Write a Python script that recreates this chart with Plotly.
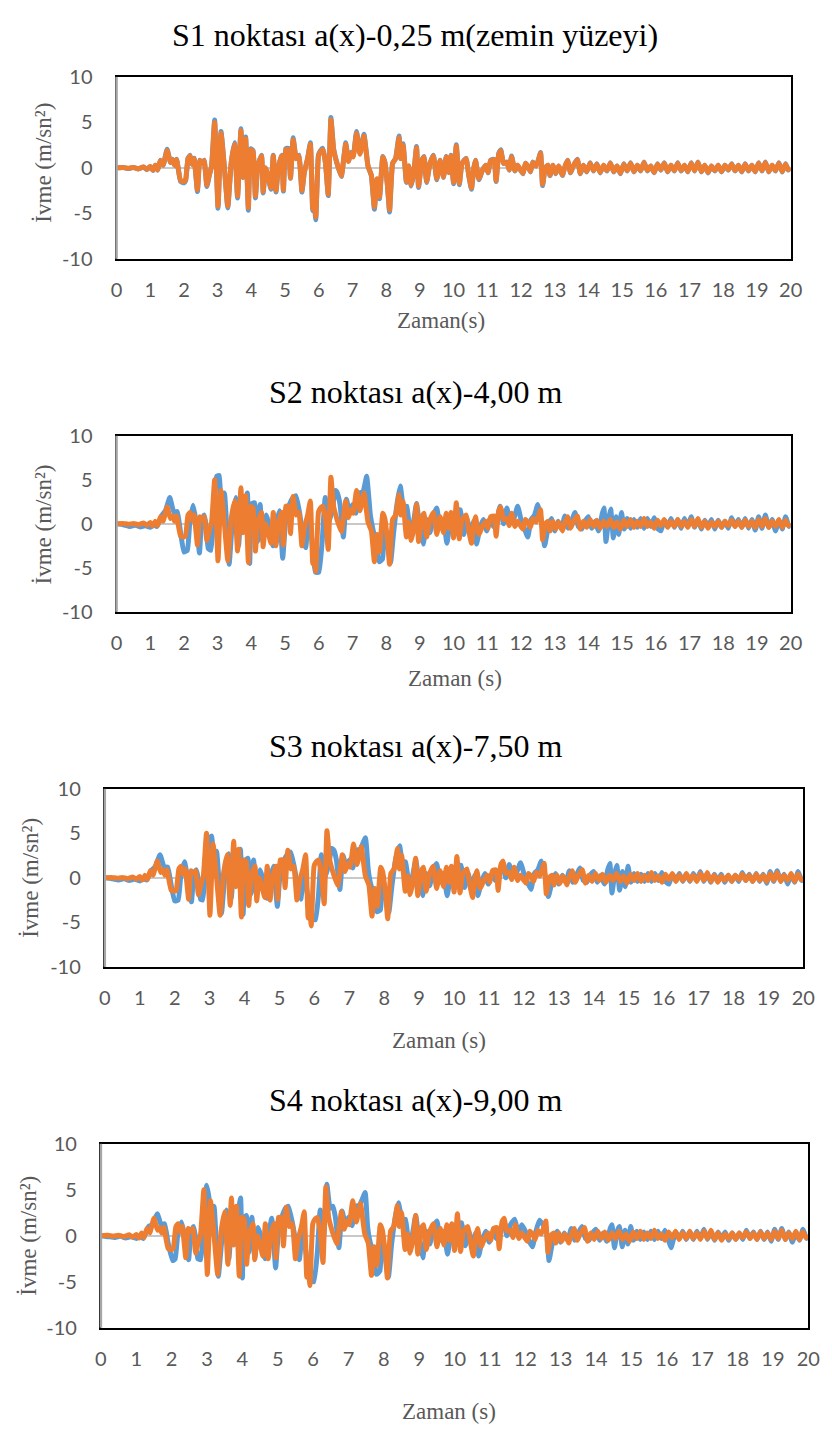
import plotly.graph_objects as go

W, H = 832, 1439
BLUE = "#5B9BD5"
ORANGE = "#ED7D31"

# ---------------- data (time s, acceleration m/s2) ----------------
orange_pts = [
    [0.00, 0.00], [0.20, 0.05], [0.35, -0.05], [0.50, 0.05], [0.65, -0.10], [0.80, 0.10], [0.90, -0.15],
    [1.00, 0.15], [1.08, -0.25], [1.15, 0.30], [1.22, -0.20], [1.30, 0.80], [1.38, 0.30], [1.50, 1.90],
    [1.60, 0.60], [1.66, 0.90], [1.72, 0.30], [1.78, 0.90], [1.90, -1.40], [2.00, -1.50], [2.05, -1.30],
    [2.12, 1.00], [2.18, 1.30], [2.24, 0.40], [2.30, 1.00], [2.40, -2.40], [2.47, 0.80], [2.55, 0.50],
    [2.60, 0.80], [2.68, -1.90], [2.75, -0.80], [2.82, 0.20], [2.91, 5.00], [3.01, -4.20], [3.10, 3.80],
    [3.20, 0.00], [3.30, -4.20], [3.40, 0.50], [3.50, 2.60], [3.59, -3.10], [3.69, 4.10], [3.75, -1.00],
    [3.83, 3.20], [3.91, -4.40], [3.98, 2.00], [4.05, 1.80], [4.12, -3.10], [4.19, 0.20], [4.30, 1.30],
    [4.35, -2.60], [4.42, 0.00], [4.50, -1.00], [4.58, -2.20], [4.65, 1.30], [4.73, -2.50], [4.80, 0.00],
    [4.90, 1.30], [4.95, -2.40], [5.02, 2.00], [5.10, 2.00], [5.16, -1.10], [5.24, 3.10], [5.33, 1.00],
    [5.41, 1.30], [5.50, -2.50], [5.57, -0.50], [5.67, 1.00], [5.75, 2.60], [5.82, -4.50], [5.86, -3.30],
    [5.91, -5.40], [5.99, 1.30], [6.05, 1.80], [6.12, 2.00], [6.20, 0.50], [6.28, -2.90], [6.36, 5.30],
    [6.44, 2.00], [6.54, 0.50], [6.67, -0.90], [6.74, 1.00], [6.80, 2.60], [6.88, 0.70], [6.95, 1.60],
    [7.02, 1.20], [7.12, 3.80], [7.22, 1.50], [7.34, 3.50], [7.46, 0.20], [7.56, -0.80], [7.65, -4.30],
    [7.73, -1.20], [7.80, -3.20], [7.90, 1.20], [7.96, 0.60], [8.04, -2.00], [8.10, -4.60], [8.19, 0.50],
    [8.28, 1.00], [8.38, 3.30], [8.43, 1.00], [8.50, 2.50], [8.60, -1.50], [8.67, 0.20], [8.74, -1.90],
    [8.82, -0.50], [8.90, 2.20], [8.96, -2.00], [9.06, 0.80], [9.12, 1.20], [9.20, -1.50], [9.30, 0.50],
    [9.40, 1.30], [9.50, -1.20], [9.60, 0.80], [9.70, -1.00], [9.78, 1.20], [9.86, -0.50], [9.92, 1.30],
    [10.00, -1.60], [10.08, 2.40], [10.17, -1.70], [10.25, 0.50], [10.37, 1.00], [10.45, -0.80],
    [10.53, -2.20], [10.60, 0.00], [10.65, 0.80], [10.75, -1.20], [10.85, -0.30], [10.95, 0.30],
    [11.02, -0.50], [11.10, 0.80], [11.20, 0.90], [11.26, -1.40], [11.34, 1.50], [11.40, 1.90],
    [11.48, 0.50], [11.58, 0.60], [11.65, -0.20], [11.72, 1.20], [11.82, -0.30], [11.90, 0.30],
    [12.00, -0.30], [12.06, -0.60], [12.13, 0.50], [12.20, 0.20], [12.28, -0.40], [12.35, 0.60],
    [12.45, 0.20], [12.52, 0.90], [12.58, 1.60], [12.64, -1.80], [12.72, 0.00], [12.80, 0.30],
    [12.86, -0.80], [12.95, 0.30], [13.03, -0.60], [13.12, 0.20], [13.23, -0.80], [13.30, 0.10],
    [13.38, 0.80], [13.47, -0.50], [13.55, 0.20], [13.67, 0.90], [13.76, -0.60], [13.85, 0.30],
    [13.95, -0.40], [14.05, 0.50], [14.15, -0.30], [14.25, 0.40], [14.35, -0.50], [14.45, 0.30],
    [14.55, -0.30], [14.65, 0.50], [14.75, -0.40], [14.85, 0.20], [14.95, -0.60], [15.05, 0.40],
    [15.15, -0.30], [15.25, 0.50], [15.35, -0.40], [15.45, 0.30], [15.55, -0.30], [15.65, 0.60],
    [15.75, -0.30], [15.85, 0.20], [15.95, -0.50], [16.05, 0.40], [16.15, -0.20], [16.25, 0.50],
    [16.35, -0.40], [16.45, 0.30], [16.55, -0.30], [16.65, 0.50], [16.75, -0.30], [16.85, 0.30],
    [16.95, -0.40], [17.05, 0.50], [17.15, -0.30], [17.25, 0.60], [17.35, -0.40], [17.45, 0.30],
    [17.55, -0.50], [17.65, 0.20], [17.75, -0.30], [17.85, 0.30], [17.95, -0.40], [18.05, 0.30],
    [18.15, -0.20], [18.25, 0.40], [18.35, -0.30], [18.45, 0.30], [18.55, -0.40], [18.65, 0.40],
    [18.75, -0.30], [18.85, 0.30], [18.95, -0.40], [19.05, 0.50], [19.15, -0.30], [19.25, 0.60],
    [19.35, -0.40], [19.45, 0.30], [19.55, -0.30], [19.65, 0.50], [19.75, -0.40], [19.85, 0.40],
    [19.93, -0.20], [20.00, 0.00],
]

s1_blue_pts = [
    [0.00, 0.00], [0.20, 0.05], [0.35, -0.08], [0.50, 0.05], [0.65, -0.12], [0.80, 0.10], [0.90, -0.18],
    [1.00, 0.15], [1.08, -0.30], [1.15, 0.30], [1.22, -0.25], [1.30, 0.85], [1.38, 0.30], [1.50, 2.05],
    [1.60, 0.60], [1.66, 0.95], [1.72, 0.30], [1.78, 0.95], [1.90, -1.50], [2.00, -1.65], [2.05, -1.40],
    [2.12, 1.05], [2.18, 1.40], [2.24, 0.40], [2.30, 1.05], [2.40, -2.60], [2.47, 0.85], [2.55, 0.50],
    [2.60, 0.85], [2.68, -2.05], [2.75, -0.85], [2.82, 0.20], [2.91, 5.25], [3.01, -4.45], [3.10, 4.00],
    [3.20, 0.00], [3.30, -4.40], [3.40, 0.50], [3.50, 2.75], [3.59, -3.30], [3.69, 4.30], [3.75, -1.05],
    [3.83, 3.40], [3.91, -4.65], [3.98, 2.10], [4.05, 1.90], [4.12, -3.30], [4.19, 0.20], [4.30, 1.40],
    [4.35, -2.75], [4.42, 0.00], [4.50, -1.05], [4.58, -2.35], [4.65, 1.40], [4.73, -2.65], [4.80, 0.00],
    [4.90, 1.40], [4.95, -2.55], [5.02, 2.10], [5.10, 2.15], [5.16, -1.15], [5.24, 3.30], [5.33, 1.05],
    [5.41, 1.40], [5.50, -2.65], [5.57, -0.50], [5.67, 1.05], [5.75, 2.75], [5.82, -4.70], [5.86, -3.50],
    [5.91, -5.70], [5.99, 1.40], [6.05, 1.90], [6.12, 2.15], [6.20, 0.50], [6.28, -3.05], [6.36, 5.55],
    [6.44, 2.10], [6.54, 0.50], [6.67, -0.95], [6.74, 1.05], [6.80, 2.75], [6.88, 0.75], [6.95, 1.70],
    [7.02, 1.25], [7.12, 4.00], [7.22, 1.60], [7.34, 3.70], [7.46, 0.20], [7.56, -0.85], [7.65, -4.55],
    [7.73, -1.25], [7.80, -3.40], [7.90, 1.25], [7.96, 0.60], [8.04, -2.10], [8.10, -4.85], [8.19, 0.50],
    [8.28, 1.05], [8.38, 3.50], [8.43, 1.05], [8.50, 2.65], [8.60, -1.60], [8.67, 0.20], [8.74, -2.00],
    [8.82, -0.50], [8.90, 2.35], [8.96, -2.15], [9.06, 0.85], [9.12, 1.25], [9.20, -1.60], [9.30, 0.50],
    [9.40, 1.40], [9.50, -1.30], [9.60, 0.85], [9.70, -1.05], [9.78, 1.25], [9.86, -0.50], [9.92, 1.40],
    [10.00, -1.75], [10.08, 2.55], [10.17, -1.85], [10.25, 0.50], [10.37, 1.05], [10.45, -0.85],
    [10.53, -2.35], [10.60, 0.00], [10.65, 0.85], [10.75, -1.30], [10.85, -0.30], [10.95, 0.30],
    [11.02, -0.55], [11.10, 0.85], [11.20, 0.95], [11.26, -1.50], [11.34, 1.60], [11.40, 2.00],
    [11.48, 0.50], [11.58, 0.65], [11.65, -0.25], [11.72, 1.30], [11.82, -0.35], [11.90, 0.30],
    [12.00, -0.35], [12.06, -0.65], [12.13, 0.50], [12.20, 0.20], [12.28, -0.45], [12.35, 0.65],
    [12.45, 0.20], [12.52, 0.95], [12.58, 1.70], [12.64, -1.95], [12.72, 0.00], [12.80, 0.30],
    [12.86, -0.85], [12.95, 0.30], [13.03, -0.65], [13.12, 0.20], [13.23, -0.85], [13.30, 0.10],
    [13.38, 0.85], [13.47, -0.55], [13.55, 0.20], [13.67, 0.95], [13.76, -0.65], [13.85, 0.30],
    [13.95, -0.45], [14.05, 0.55], [14.15, -0.35], [14.25, 0.45], [14.35, -0.55], [14.45, 0.30],
    [14.55, -0.35], [14.65, 0.55], [14.75, -0.45], [14.85, 0.20], [14.95, -0.65], [15.05, 0.45],
    [15.15, -0.35], [15.25, 0.55], [15.35, -0.45], [15.45, 0.30], [15.55, -0.35], [15.65, 0.65],
    [15.75, -0.35], [15.85, 0.20], [15.95, -0.55], [16.05, 0.45], [16.15, -0.25], [16.25, 0.55],
    [16.35, -0.45], [16.45, 0.30], [16.55, -0.35], [16.65, 0.55], [16.75, -0.35], [16.85, 0.30],
    [16.95, -0.45], [17.05, 0.55], [17.15, -0.35], [17.25, 0.65], [17.35, -0.45], [17.45, 0.30],
    [17.55, -0.55], [17.65, 0.20], [17.75, -0.35], [17.85, 0.30], [17.95, -0.45], [18.05, 0.30],
    [18.15, -0.25], [18.25, 0.45], [18.35, -0.35], [18.45, 0.30], [18.55, -0.45], [18.65, 0.45],
    [18.75, -0.35], [18.85, 0.30], [18.95, -0.45], [19.05, 0.55], [19.15, -0.35], [19.25, 0.65],
    [19.35, -0.45], [19.45, 0.30], [19.55, -0.35], [19.65, 0.55], [19.75, -0.45], [19.85, 0.45],
    [19.93, -0.25], [20.00, 0.00],
]

s2_blue_pts = [
    [0.00, 0.0], [0.20, -0.1], [0.40, -0.3], [0.55, -0.15], [0.70, -0.35], [0.85, -0.2], [1.00, -0.4],
    [1.10, -0.1], [1.20, -0.3], [1.35, 1.0], [1.45, 1.5], [1.58, 3.0], [1.70, 1.3], [1.80, 1.4],
    [1.90, -1.0], [2.00, -3.2], [2.10, -3.0], [2.17, 0.0], [2.27, 2.1], [2.37, 0.0], [2.46, -3.3],
    [2.53, 0.5], [2.60, 1.0], [2.65, 0.0], [2.72, -2.8], [2.80, -3.0], [2.87, 0.5], [2.97, 5.4],
    [3.05, 5.5], [3.10, 1.0], [3.20, 3.5], [3.34, -4.6], [3.43, 0.0], [3.53, 3.0], [3.62, -2.5],
    [3.72, 3.2], [3.78, 1.0], [3.88, 3.5], [3.95, -4.5], [4.02, 2.3], [4.10, 2.4], [4.18, -2.0],
    [4.26, 2.2], [4.34, -2.0], [4.45, 1.0], [4.55, -0.5], [4.64, -2.5], [4.74, 0.0], [4.83, 1.5],
    [4.93, -3.9], [5.03, 1.0], [5.13, 2.2], [5.22, 2.9], [5.32, 3.2], [5.42, 1.5], [5.52, -1.0],
    [5.61, -2.7], [5.71, 1.0], [5.80, -2.0], [5.90, -5.5], [6.00, -5.5], [6.10, -2.0], [6.19, 3.0],
    [6.29, 0.0], [6.39, 1.5], [6.50, 3.8], [6.55, 3.5], [6.63, 2.2], [6.73, -1.5], [6.82, 2.8],
    [6.92, 1.2], [7.00, 2.2], [7.10, 1.2], [7.20, 3.5], [7.31, 3.6], [7.42, 5.4], [7.53, 1.0],
    [7.60, -0.5], [7.69, -2.0], [7.79, -4.3], [7.89, -4.0], [7.95, 0.3], [8.03, -2.0], [8.13, -4.4],
    [8.22, -1.0], [8.33, 2.5], [8.42, 4.3], [8.51, 2.0], [8.61, 2.0], [8.71, -1.0], [8.80, 0.0],
    [8.90, 2.3], [9.00, -0.5], [9.10, -2.3], [9.20, 0.5], [9.30, -1.0], [9.40, 1.0], [9.50, 1.8],
    [9.60, -0.5], [9.70, 0.5], [9.80, -2.2], [9.90, 0.0], [10.00, -1.0], [10.10, 1.5], [10.20, 1.6],
    [10.30, -1.2], [10.40, 0.5], [10.50, -1.0], [10.60, 0.3], [10.68, -2.3], [10.78, -0.5], [10.88, 0.5],
    [10.98, -0.8], [11.08, 0.6], [11.18, -0.3], [11.30, 0.7], [11.38, 2.0], [11.48, 0.0], [11.58, 1.8],
    [11.68, 0.3], [11.78, 0.5], [11.90, 2.0], [12.00, 0.5], [12.10, -0.5], [12.20, -1.5], [12.30, 0.5],
    [12.40, 1.0], [12.50, 2.2], [12.60, 0.5], [12.70, -2.5], [12.80, -0.5], [12.90, 0.6], [13.00, -0.8],
    [13.10, 0.3], [13.20, -0.6], [13.30, 0.9], [13.40, -0.5], [13.50, 0.3], [13.60, 1.3], [13.70, -0.3],
    [13.80, -0.6], [13.90, 0.3], [14.00, 0.8], [14.10, -0.5], [14.20, 0.3], [14.30, -0.8], [14.40, 1.0],
    [14.46, 1.8], [14.52, -2.0], [14.60, 0.5], [14.66, 1.7], [14.74, -1.6], [14.82, 0.8], [14.90, -1.2],
    [14.98, 1.3], [15.06, -0.6], [15.15, 0.6], [15.25, -0.5], [15.35, 0.5], [15.45, -0.4], [15.55, 0.6],
    [15.65, -0.5], [15.75, 0.6], [15.85, -0.3], [15.95, 0.7], [16.05, -0.5], [16.15, -0.8], [16.25, 0.4],
    [16.35, -0.3], [16.45, 0.6], [16.55, -0.4], [16.65, 0.5], [16.75, -0.5], [16.85, 0.6], [16.95, -0.3],
    [17.05, 0.8], [17.15, -0.4], [17.25, 0.5], [17.35, -0.6], [17.45, 0.4], [17.55, -0.3], [17.65, 0.5],
    [17.75, -0.6], [17.85, 0.4], [17.95, -0.4], [18.05, 0.3], [18.15, -0.5], [18.25, 0.7], [18.35, -0.3],
    [18.45, 0.5], [18.55, -0.4], [18.65, 0.6], [18.75, -0.5], [18.85, 0.5], [18.95, -0.7], [19.05, 0.8],
    [19.15, -0.5], [19.25, 1.0], [19.35, -0.4], [19.45, 0.5], [19.55, -0.8], [19.65, 0.4], [19.75, -0.6],
    [19.85, 0.8], [19.95, -0.3], [20.00, 0.0],
]

s3_blue_pts = [
    [0.00, 0.0], [0.20, -0.1], [0.40, -0.25], [0.55, -0.1], [0.70, -0.3], [0.85, -0.15], [1.00, -0.35],
    [1.10, -0.1], [1.20, -0.25], [1.35, 0.9], [1.45, 1.3], [1.58, 2.6], [1.70, 1.2], [1.80, 1.2],
    [1.90, -0.8], [2.00, -2.6], [2.10, -2.5], [2.17, 0.0], [2.28, 1.8], [2.37, 0.0], [2.48, -2.7],
    [2.55, 0.4], [2.62, 0.9], [2.67, 0.0], [2.74, -2.4], [2.80, -2.5], [2.88, 0.5], [2.98, 4.4],
    [3.06, 4.7], [3.12, 1.0], [3.20, 3.0], [3.34, -4.0], [3.43, 0.0], [3.54, 2.7], [3.62, -2.3],
    [3.72, 2.9], [3.78, 1.0], [3.88, 3.2], [3.96, -4.1], [4.03, 2.0], [4.10, 2.2], [4.18, -1.8],
    [4.26, 2.0], [4.34, -1.8], [4.45, 0.9], [4.55, -0.5], [4.64, -2.3], [4.74, 0.0], [4.83, 1.3],
    [4.94, -3.2], [5.03, 0.9], [5.13, 2.0], [5.22, 2.6], [5.32, 2.9], [5.42, 1.3], [5.52, -0.9],
    [5.61, -2.4], [5.71, 0.9], [5.80, -1.8], [5.92, -4.6], [6.03, -4.7], [6.12, -1.8], [6.20, 2.6],
    [6.30, 0.0], [6.40, 1.3], [6.50, 3.3], [6.56, 3.1], [6.63, 2.0], [6.73, -1.3], [6.82, 2.5],
    [6.92, 1.1], [7.00, 2.0], [7.10, 1.1], [7.20, 3.1], [7.31, 3.2], [7.46, 4.5], [7.54, 1.0],
    [7.60, -0.5], [7.69, -1.8], [7.79, -3.8], [7.89, -3.6], [7.95, 0.3], [8.03, -1.8], [8.13, -3.9],
    [8.22, -0.9], [8.33, 2.2], [8.44, 3.6], [8.52, 1.8], [8.61, 1.8], [8.71, -0.9], [8.80, 0.0],
    [8.90, 2.0], [9.00, -0.5], [9.10, -2.0], [9.20, 0.5], [9.30, -0.9], [9.40, 0.9], [9.50, 1.6],
    [9.60, -0.5], [9.70, 0.5], [9.80, -2.0], [9.90, 0.0], [10.00, -0.9], [10.10, 1.3], [10.20, 1.4],
    [10.30, -1.1], [10.40, 0.5], [10.50, -0.9], [10.60, 0.3], [10.68, -2.0], [10.78, -0.5], [10.88, 0.5],
    [10.98, -0.7], [11.08, 0.5], [11.18, -0.3], [11.30, 0.6], [11.38, 1.7], [11.48, 0.0], [11.58, 1.5],
    [11.68, 0.3], [11.78, 0.5], [11.90, 1.7], [12.00, 0.5], [12.10, -0.5], [12.20, -1.3], [12.30, 0.5],
    [12.40, 0.9], [12.50, 1.9], [12.60, 0.4], [12.70, -2.1], [12.80, -0.5], [12.90, 0.5], [13.00, -0.7],
    [13.10, 0.3], [13.20, -0.5], [13.30, 0.8], [13.40, -0.5], [13.50, 0.3], [13.60, 1.1], [13.70, -0.3],
    [13.80, -0.5], [13.90, 0.3], [14.00, 0.7], [14.10, -0.5], [14.20, 0.3], [14.30, -0.7], [14.40, 0.9],
    [14.46, 1.6], [14.52, -1.7], [14.60, 0.5], [14.66, 1.4], [14.74, -1.4], [14.82, 0.7], [14.90, -1.0],
    [14.98, 1.3], [15.06, -0.5], [15.15, 0.5], [15.25, -0.4], [15.35, 0.4], [15.45, -0.4], [15.55, 0.5],
    [15.65, -0.4], [15.75, 0.5], [15.85, -0.3], [15.95, 0.6], [16.05, -0.4], [16.15, -0.7], [16.25, 0.4],
    [16.35, -0.3], [16.45, 0.5], [16.55, -0.4], [16.65, 0.4], [16.75, -0.4], [16.85, 0.5], [16.95, -0.3],
    [17.05, 0.7], [17.15, -0.4], [17.25, 0.4], [17.35, -0.5], [17.45, 0.4], [17.55, -0.3], [17.65, 0.4],
    [17.75, -0.5], [17.85, 0.3], [17.95, -0.4], [18.05, 0.3], [18.15, -0.4], [18.25, 0.6], [18.35, -0.3],
    [18.45, 0.4], [18.55, -0.4], [18.65, 0.5], [18.75, -0.4], [18.85, 0.4], [18.95, -0.6], [19.05, 0.7],
    [19.15, -0.4], [19.25, 0.8], [19.35, -0.4], [19.45, 0.4], [19.55, -0.7], [19.65, 0.4], [19.75, -0.5],
    [19.85, 0.7], [19.95, -0.3], [20.00, 0.0],
]

s4_blue_pts = [
    [0.00, 0.0], [0.20, -0.1], [0.40, -0.2], [0.55, -0.05], [0.70, -0.25], [0.85, -0.1], [1.00, -0.3],
    [1.10, 0.0], [1.20, -0.3], [1.35, 1.0], [1.45, 1.2], [1.60, 2.4], [1.70, 1.2], [1.80, 1.3],
    [1.90, -0.8], [2.03, -2.7], [2.10, -2.5], [2.17, 0.0], [2.28, 1.5], [2.37, 0.0], [2.48, -2.6],
    [2.55, 0.5], [2.62, 1.0], [2.67, 0.0], [2.74, -2.5], [2.82, -2.6], [2.90, 0.5], [2.99, 5.5],
    [3.06, 4.0], [3.12, 1.0], [3.20, 3.2], [3.32, -4.4], [3.43, 0.0], [3.54, 2.8], [3.62, -2.5],
    [3.72, 2.9], [3.78, 1.0], [3.88, 2.6], [3.95, 4.1], [4.00, -4.6], [4.06, 2.0], [4.12, 2.2],
    [4.18, -1.8], [4.27, 2.0], [4.35, -2.4], [4.45, 0.9], [4.55, -0.5], [4.64, -2.5], [4.74, 0.0],
    [4.83, 1.9], [4.94, -3.5], [5.03, 0.9], [5.13, 2.2], [5.22, 3.0], [5.30, 3.2], [5.42, 1.3],
    [5.52, -0.9], [5.61, -2.6], [5.71, 0.9], [5.80, -1.8], [5.92, -4.8], [6.02, -5.0], [6.12, -1.8],
    [6.20, 2.8], [6.30, 0.0], [6.39, 5.6], [6.48, 3.0], [6.56, 3.2], [6.63, 2.0], [6.73, -1.3],
    [6.82, 2.7], [6.92, 1.1], [7.00, 2.0], [7.10, 1.1], [7.20, 3.2], [7.31, 3.3], [7.47, 4.7],
    [7.54, 1.0], [7.60, -0.5], [7.69, -1.8], [7.79, -4.2], [7.89, -3.8], [7.95, 0.3], [8.03, -1.8],
    [8.13, -4.5], [8.22, -0.9], [8.33, 2.2], [8.41, 3.6], [8.52, 1.8], [8.61, 1.8], [8.71, -0.9],
    [8.80, 0.0], [8.90, 2.2], [9.00, -0.5], [9.10, -2.4], [9.20, 0.5], [9.30, -0.9], [9.40, 0.9],
    [9.50, 1.6], [9.60, -0.5], [9.70, 0.5], [9.80, -2.0], [9.90, 0.0], [10.00, -0.9], [10.10, 1.3],
    [10.20, 1.4], [10.30, -1.1], [10.40, 0.5], [10.50, -0.9], [10.60, 0.3], [10.68, -2.2], [10.78, -0.5],
    [10.88, 0.5], [10.98, -0.7], [11.08, 0.5], [11.18, -0.3], [11.30, 0.6], [11.38, 1.6], [11.48, 0.0],
    [11.58, 1.2], [11.70, 1.8], [11.80, 0.3], [11.90, 1.2], [12.00, 0.5], [12.10, -0.5], [12.20, -1.2],
    [12.30, 0.5], [12.40, 1.7], [12.50, 1.2], [12.60, 0.4], [12.67, -2.7], [12.78, -0.5], [12.90, 0.5],
    [13.00, -0.7], [13.10, 0.3], [13.20, -0.5], [13.30, 0.8], [13.40, -0.5], [13.50, 0.3], [13.60, 1.0],
    [13.70, -0.3], [13.80, -0.5], [13.90, 0.3], [14.00, 0.7], [14.10, -0.5], [14.20, 0.3], [14.30, -0.6],
    [14.40, 0.8], [14.45, 1.2], [14.52, -1.3], [14.60, 0.5], [14.66, 1.0], [14.74, -1.2], [14.82, 0.6],
    [14.90, -0.9], [14.98, 1.0], [15.06, -0.5], [15.15, 0.5], [15.25, -0.4], [15.35, 0.4], [15.45, -0.4],
    [15.55, 0.5], [15.65, -0.4], [15.75, 0.5], [15.85, -0.3], [15.95, 0.6], [16.05, -0.5], [16.12, -1.3],
    [16.25, 0.4], [16.35, -0.3], [16.45, 0.5], [16.55, -0.4], [16.65, 0.4], [16.75, -0.4], [16.85, 0.5],
    [16.95, -0.3], [17.05, 0.7], [17.15, -0.4], [17.25, 0.4], [17.35, -0.5], [17.45, 0.4], [17.55, -0.3],
    [17.65, 0.4], [17.75, -0.5], [17.85, 0.3], [17.95, -0.4], [18.05, 0.3], [18.15, -0.4], [18.25, 0.6],
    [18.35, -0.3], [18.45, 0.4], [18.55, -0.4], [18.65, 0.5], [18.75, -0.4], [18.85, 0.4], [18.95, -0.6],
    [19.05, 0.7], [19.15, -0.4], [19.25, 0.8], [19.35, -0.4], [19.45, 0.4], [19.55, -0.7], [19.65, 0.4],
    [19.75, -0.5], [19.85, 0.7], [19.95, -0.3], [20.00, 0.0],
]

titles = [
    "S1 noktası a(x)-0,25 m(zemin yüzeyi)",
    "S2 noktası a(x)-4,00 m",
    "S3 noktası a(x)-7,50 m",
    "S4 noktası a(x)-9,00 m",
]
x_titles = ["Zaman(s)", "Zaman (s)", "Zaman (s)", "Zaman (s)"]
y_title = "İvme (m/sn²)"
x_ticks = list(range(0, 21))
y_ticks = [-10, -5, 0, 5, 10]
blue_series = [s1_blue_pts, s2_blue_pts, s3_blue_pts, s4_blue_pts]
orange_series = [orange_pts, orange_pts, orange_pts, orange_pts]

# ---------------- layout (pixels) ----------------
panels = [
    dict(l=113, r=802, t=65, b=250, tx=418, ty=22, xtx=445, xty=313, ytx=38, yty=152),
    dict(l=113, r=802, t=430, b=609, tx=419, ty=385, xtx=459, xty=677, ytx=38, yty=520),
    dict(l=101, r=815, t=789, b=970, tx=419, ty=745, xtx=443, xty=1045, ytx=25, yty=879),
    dict(l=97, r=820, t=1150, b=1337, tx=419, ty=1105, xtx=453, xty=1422, ytx=23, yty=1244),
]

TICKFONT = dict(family="Lato", size=20, color="#595959")
SERIF = "Liberation Serif"

fig = go.Figure()
annotations = []
shapes = []
layout = dict(
    width=W, height=H, margin=dict(l=0, r=0, t=0, b=0),
    paper_bgcolor="white", plot_bgcolor="white", showlegend=False,
)

for i, p in enumerate(panels):
    k = "" if i == 0 else str(i + 1)
    xa, ya = "x" + k, "y" + k
    bt = [q[0] for q in blue_series[i]]
    bv = [q[1] for q in blue_series[i]]
    ot = [q[0] for q in orange_series[i]]
    ov = [q[1] for q in orange_series[i]]
    fig.add_trace(go.Scatter(x=bt, y=bv, mode="lines", xaxis=xa, yaxis=ya, hoverinfo="skip",
                             line=dict(color=BLUE, width=5, shape="spline", smoothing=0.4)))
    fig.add_trace(go.Scatter(x=ot, y=ov, mode="lines", xaxis=xa, yaxis=ya, hoverinfo="skip",
                             line=dict(color=ORANGE, width=5, shape="spline", smoothing=0.4)))
    layout["xaxis" + k] = dict(
        domain=[p["l"] / W, p["r"] / W], anchor=ya, range=[0, 20],
        tickmode="array", tickvals=x_ticks, ticktext=[str(v) for v in x_ticks],
        showgrid=False, zeroline=False, showline=True, linecolor="black", linewidth=2, mirror=True,
        ticks="", ticklabelstandoff=12, tickfont=TICKFONT, fixedrange=True,
    )
    layout["yaxis" + k] = dict(
        domain=[1 - p["b"] / H, 1 - p["t"] / H], anchor=xa, range=[-10, 10],
        tickmode="array", tickvals=y_ticks, ticktext=[str(v) for v in y_ticks],
        showgrid=False, zeroline=True, zerolinecolor="#c8c8c8", zerolinewidth=2,
        showline=True, linecolor="black", linewidth=2, mirror=True,
        ticks="", ticklabelstandoff=18, tickfont=TICKFONT, fixedrange=True,
    )
    shapes.append(dict(type="line", xref=xa + " domain", yref=ya + " domain", x0=0, x1=0, y0=0, y1=1,
                       line=dict(color="#a6a6a6", width=2.5)))
    annotations.append(dict(text=titles[i], x=p["tx"] / W, y=1 - p["ty"] / H, xref="paper", yref="paper",
                            showarrow=False, xanchor="center", yanchor="middle",
                            font=dict(family=SERIF, size=32, color="black")))
    annotations.append(dict(text=x_titles[i], x=p["xtx"] / W, y=1 - p["xty"] / H, xref="paper", yref="paper",
                            showarrow=False, xanchor="center", yanchor="middle",
                            font=dict(family=SERIF, size=23, color="#595959")))
    annotations.append(dict(text=y_title, x=p["ytx"] / W, y=1 - p["yty"] / H, xref="paper", yref="paper",
                            showarrow=False, xanchor="center", yanchor="middle", textangle=-90,
                            font=dict(family=SERIF, size=23, color="#595959")))

layout["annotations"] = annotations
layout["shapes"] = shapes
fig.update_layout(**layout)
fig.write_html("out.html", config={"displayModeBar": False, "staticPlot": True},
               post_script="document.body.style.margin='0';")
